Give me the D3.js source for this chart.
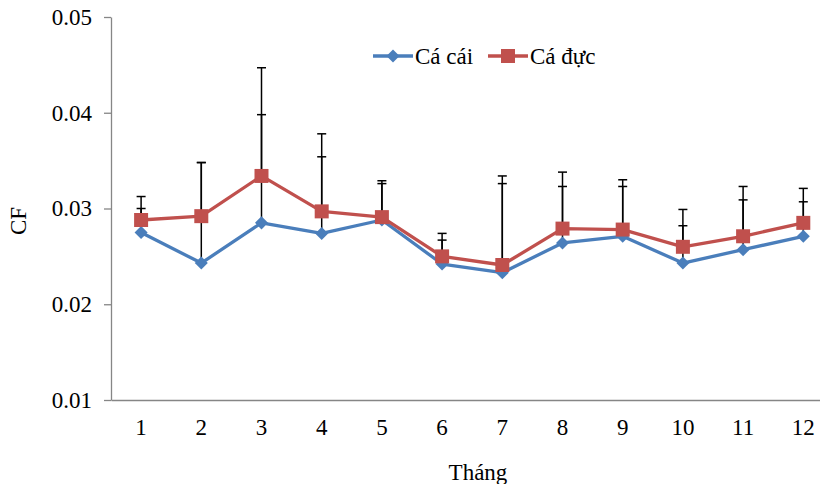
<!DOCTYPE html>
<html>
<head>
<meta charset="utf-8">
<script src="https://cdn.jsdelivr.net/npm/d3@7"></script>
<style>
  body { margin: 0; background: #fff; }
  text { font-family: "Liberation Serif", "Times New Roman", serif; }
</style>
</head>
<body>
<div id="chart"></div>
<script>
// data
const months = ["1", "2", "3", "4", "5", "6", "7", "8", "9", "10", "11", "12"];
const femaleCF = [0.0275, 0.0243, 0.0285, 0.0274, 0.0288, 0.0242, 0.0233, 0.0264, 0.0271, 0.0243, 0.0257, 0.0271];
const femaleErr = [0.0025, 0.0105, 0.0113, 0.0080, 0.0038, 0.0025, 0.0093, 0.0059, 0.0052, 0.0039, 0.0052, 0.0036];
const maleCF = [0.0288, 0.0292, 0.0334, 0.0297, 0.0291, 0.0250, 0.0241, 0.0279, 0.0278, 0.0260, 0.0271, 0.0285];
const maleErr = [0.00245, 0.0056, 0.0113, 0.0081, 0.0038, 0.0024, 0.0093, 0.0059, 0.0052, 0.0039, 0.0052, 0.0036];
const yTicks = [0.01, 0.02, 0.03, 0.04, 0.05];

const width = 820, height = 484;
const fontSize = "23px";

const svg = d3.select("#chart").append("svg")
    .attr("width", width)
    .attr("height", height);

const x = d3.scaleBand()
    .domain(months)
    .range([111, 111 + 12 * 60.2]);

const y = d3.scaleLinear()
    .domain([0.01, 0.05])
    .range([400, 17]);

const cx = m => x(m) + x.bandwidth() / 2;

// axes
const yAxis = svg.append("g")
    .attr("transform", "translate(111,0)")
    .call(d3.axisLeft(y).tickValues(yTicks).tickFormat(d3.format(".2f")).tickSize(7).tickPadding(12).tickSizeOuter(0));

const xAxis = svg.append("g")
    .attr("transform", "translate(0,400)")
    .call(d3.axisBottom(x).tickSize(0).tickPadding(19));

[yAxis, xAxis].forEach(g => {
    g.selectAll("path, line").attr("stroke", "#868686").attr("stroke-width", 1.3);
    g.selectAll("text").attr("fill", "#000").style("font-size", fontSize)
        .style("font-family", "'Liberation Serif', 'Times New Roman', serif");
});

// axis titles
svg.append("text")
    .attr("transform", "translate(26,221) rotate(-90)")
    .attr("text-anchor", "middle")
    .style("font-size", fontSize)
    .text("CF");

svg.append("text")
    .attr("x", 478)
    .attr("y", 480)
    .attr("text-anchor", "middle")
    .style("font-size", fontSize)
    .text("Tháng");

// diamond = square turned 45 degrees
const series = [
    { name: "Cá cái", values: femaleCF, err: femaleErr, color: "#4a7ebb", size: 85, rot: 45 },
    { name: "Cá đực", values: maleCF, err: maleErr, color: "#c0504d", size: 196, rot: 0 }
];

// error bars (upper only), behind the lines
series.forEach(s => {
    const g = svg.append("g").attr("stroke", "#000").attr("stroke-width", 1.5);
    months.forEach((m, i) => {
        const top = y(s.values[i] + s.err[i]);
        g.append("line")
            .attr("x1", cx(m)).attr("x2", cx(m))
            .attr("y1", y(s.values[i])).attr("y2", top);
        g.append("line")
            .attr("x1", cx(m) - 4.5).attr("x2", cx(m) + 4.5)
            .attr("y1", top).attr("y2", top);
    });
});

const line = d3.line()
    .x((d, i) => cx(months[i]))
    .y(d => y(d));

series.forEach(s => {
    svg.append("path")
        .datum(s.values)
        .attr("fill", "none")
        .attr("stroke", s.color)
        .attr("stroke-width", 3.3)
        .attr("stroke-linejoin", "round")
        .attr("d", line);

    svg.selectAll(null)
        .data(s.values)
        .enter()
        .append("path")
        .attr("transform", (d, i) => `translate(${cx(months[i])},${y(d)}) rotate(${s.rot})`)
        .attr("d", d3.symbol().type(d3.symbolSquare).size(s.size))
        .attr("fill", s.color);
});

// legend
const legend = svg.append("g");
const legendItems = [
    { x: 373, textX: 415 },
    { x: 488, textX: 530 }
];
series.forEach((s, i) => {
    const it = legendItems[i];
    legend.append("line")
        .attr("x1", it.x).attr("x2", it.x + 40)
        .attr("y1", 56).attr("y2", 56)
        .attr("stroke", s.color)
        .attr("stroke-width", 3.3);
    legend.append("path")
        .attr("transform", `translate(${it.x + 20},56) rotate(${s.rot})`)
        .attr("d", d3.symbol().type(d3.symbolSquare).size(s.size))
        .attr("fill", s.color);
    legend.append("text")
        .attr("x", it.textX)
        .attr("y", 56)
        .attr("dy", "0.35em")
        .style("font-size", fontSize)
        .text(s.name);
});
</script>
</body>
</html>
